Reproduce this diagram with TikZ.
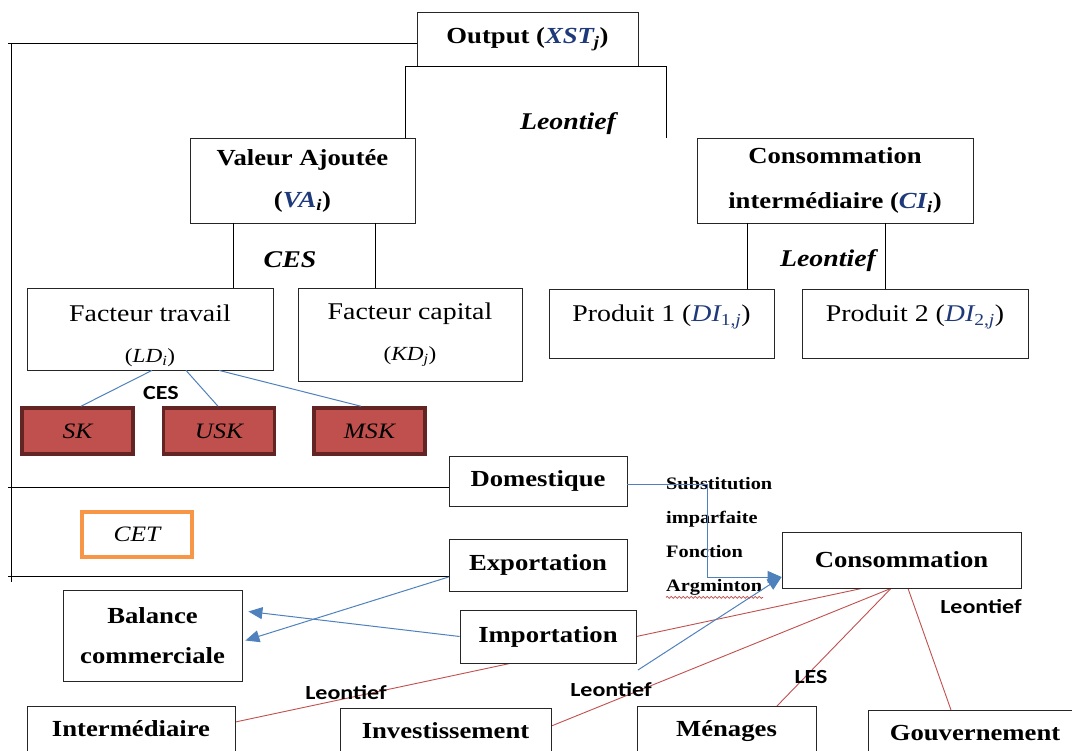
\documentclass[tikz,border=0pt]{standalone}
\usepackage{fontspec}
\setmainfont{Liberation Serif}[FakeStretch=1.16]
\newfontfamily\calib{Carlito}[FakeStretch=1.2]
\usetikzlibrary{arrows.meta,backgrounds,decorations.pathmorphing}
\definecolor{bleu}{HTML}{4F81BD}
\definecolor{rouge}{HTML}{C0504D}
\definecolor{bordeau}{HTML}{632523}
\definecolor{orangecet}{HTML}{F79646}
\definecolor{encre}{HTML}{1F3A7A}
\begin{document}
\begin{tikzpicture}[x=1pt,y=-1pt]
	\tikzstyle{boite}=[draw=black!85,line width=0.8pt,fill=white,inner sep=0pt,align=center,font=\fontsize{23}{27}\selectfont\bfseries]
	\tikzstyle{facteur}=[boite,font=\fontsize{24}{28}\selectfont]
	\tikzstyle{qualif}=[draw=bordeau,line width=3.5pt,fill=rouge,minimum width=111pt,minimum height=46pt,font=\fontsize{22}{26}\selectfont\itshape]
	\tikzstyle{bas}=[boite,anchor=north,text height=30pt,text depth=36pt]
	\tikzstyle{titre}=[font=\fontsize{24}{28}\selectfont\bfseries\itshape]
	\tikzstyle{etiq}=[font=\calib\fontsize{20}{24}\selectfont\bfseries]
	\tikzstyle{bline}=[draw=bleu,line width=1pt]
	\tikzstyle{barrow}=[bline,-{Triangle[length=14pt,width=12pt]}]
	\tikzstyle{rline}=[draw=rouge,line width=0.9pt]
	\useasboundingbox (0,0) rectangle (1072,751);
	\clip (0,0) rectangle (1072,751);
	% production
	\node[boite,minimum width=221pt,minimum height=54pt] (out) at (527.5,39) {Output ({\itshape\color{encre}XST}\textsubscript{\itshape j})};
	\node[boite,minimum width=225pt,minimum height=85pt] (va) at (302.5,180.5) {Valeur Ajoutée\\[15pt]({\itshape\color{encre}VA}\textsubscript{\itshape i})};
	\node[boite,minimum width=276pt,minimum height=85pt] (ci) at (835,180.5) {Consommation\\[18pt]intermédiaire ({\itshape\color{encre}CI}\textsubscript{\itshape i})};
	\node[facteur,minimum width=246pt,minimum height=82pt] (lt) at (150,329) {\rule{0pt}{30pt}Facteur travail\\[13pt]{\fontsize{20}{24}\selectfont(\textit{LD}\textsubscript{\itshape i})}};
	\node[facteur,minimum width=224pt,minimum height=93pt] (kd) at (410,334.5) {Facteur capital\\[13pt]{\fontsize{20}{24}\selectfont(\textit{KD}\textsubscript{\itshape j})}};
	\node[facteur,minimum width=225pt,minimum height=69pt,text height=16pt,text depth=20pt] (p1) at (661.5,323.5) {Produit 1 ({\itshape\color{encre}DI}\textsubscript{\color{encre}1,\itshape j})};
	\node[facteur,minimum width=226pt,minimum height=69pt,text height=16pt,text depth=20pt] (p2) at (915,323.5) {Produit 2 ({\itshape\color{encre}DI}\textsubscript{\color{encre}2,\itshape j})};
	\node[qualif] (sk) at (77.5,431) {SK};
	\node[qualif] (usk) at (219,431) {USK};
	\node[qualif] (msk) at (369.5,431) {MSK};
	\node[draw=orangecet,line width=3.5pt,minimum width=110pt,minimum height=45pt,font=\fontsize{22}{26}\selectfont\itshape] (cet) at (137,534.5) {CET};
	% echanges
	\node[boite,minimum width=178pt,minimum height=50pt] (dom) at (538,481) {Domestique};
	\node[boite,minimum width=178pt,minimum height=52pt] (exp) at (538,565) {Exportation};
	\node[boite,minimum width=239pt,minimum height=56pt] (cons) at (901.5,560) {Consommation};
	\node[boite,minimum width=176pt,minimum height=53pt] (imp) at (548,636.5) {Importation};
	\node[boite,minimum width=179pt,minimum height=91pt] (bal) at (152.5,635.5) {Balance\\[13pt]commerciale};
	\node[bas,minimum width=208pt] (inter) at (131,706) {Intermédiaire};
	\node[bas,minimum width=211pt] (inv) at (445.5,708) {Investissement};
	\node[bas,minimum width=179pt] (men) at (726.5,706) {Ménages};
	\node[bas,minimum width=214pt] (gouv) at (975,710) {Gouvernement};
	\node[anchor=north west,align=left,inner sep=0pt,font=\fontsize{17.5}{34}\selectfont\bfseries] (subst) at (666,477) {Substitution\\imparfaite\\Fonction\\Argminton};
	% etiquettes
	\node[titre] (leo1) at (568,124) {Leontief};
	\node[titre] (ces1) at (290,260) {CES};
	\node[titre] (leo2) at (828,261) {Leontief};
	\node[etiq] (ces2) at (161,393) {CES};
	\node[etiq] (leo3) at (981,607) {Leontief};
	\node[etiq] (les) at (811,677) {LES};
	\node[etiq] (leo4) at (611,690) {Leontief};
	\node[etiq] (leo5) at (346,693) {Leontief};
	% cadre de gauche
	\coordinate (f1) at (8,43);
	\coordinate (f2) at (8,487);
	\coordinate (f3) at (8,576);
	\coordinate (f4) at (11,582);
	\draw[line width=0.8pt] (f1) -- (f1 -| out.west);
	\draw[line width=0.8pt] (f2) -- (f2 -| dom.west);
	\draw[line width=0.8pt] (f3) -- (f3 -| exp.west);
	\draw[line width=0.8pt] (f4 |- f1) -- (f4);
	% arbre
	\draw[line width=0.8pt] ([xshift=-10pt]va.north east) |- ([xshift=-30pt]ci.north west |- out.south) -- ([xshift=-30pt]ci.north west);
	\draw[line width=0.8pt] ([xshift=-69.5pt]va.south) -- ([xshift=-69.5pt]va.south |- lt.north);
	\draw[line width=0.8pt] ([xshift=72.5pt]va.south) -- ([xshift=72.5pt]va.south |- kd.north);
	\draw[line width=0.8pt] ([xshift=-88pt]ci.south) -- ([xshift=-88pt]ci.south |- p1.north);
	\draw[line width=0.8pt] ([xshift=50pt]ci.south) -- ([xshift=50pt]ci.south |- p2.north);
	\draw[bline] ([xshift=2pt]lt.south) -- ([xshift=3.5pt]sk.north);
	\draw[bline] ([xshift=36pt]lt.south) -- ([xshift=-1pt]usk.north);
	\draw[bline] ([xshift=69pt]lt.south) -- ([xshift=-8.5pt]msk.north);
	% fleches
	\coordinate (bfree) at (638,670);
	\draw[barrow] ([yshift=-4pt]dom.east) -- ++(80,0) |- ([yshift=-17pt]cons.west);
	\draw[barrow] (bfree) -- ([yshift=-17pt]cons.west);
	\draw[barrow] ([yshift=-12pt]exp.west) -- ([xshift=3pt,yshift=-5pt]bal.east);
	\draw[barrow] (imp.west) -- ([xshift=6pt,yshift=24pt]bal.east);
	\draw[rouge,line width=0.8pt,decorate,decoration={snake,amplitude=1pt,segment length=4pt}] ([yshift=-2pt]subst.south west) -- ++(97,0);
	\begin{scope}[on background layer]
		\draw[rline] ([xshift=-39.5pt]cons.south) -- ([yshift=-16pt]inter.north east);
		\draw[rline] ([xshift=-10.5pt]cons.south) -- ([yshift=-18pt]inv.north east);
		\draw[rline] ([xshift=-10.5pt]cons.south) -- ([xshift=50.5pt]men.north);
		\draw[rline] ([xshift=6.5pt]cons.south) -- ([xshift=-24pt]gouv.north);
	\end{scope}
\end{tikzpicture}
\end{document}
